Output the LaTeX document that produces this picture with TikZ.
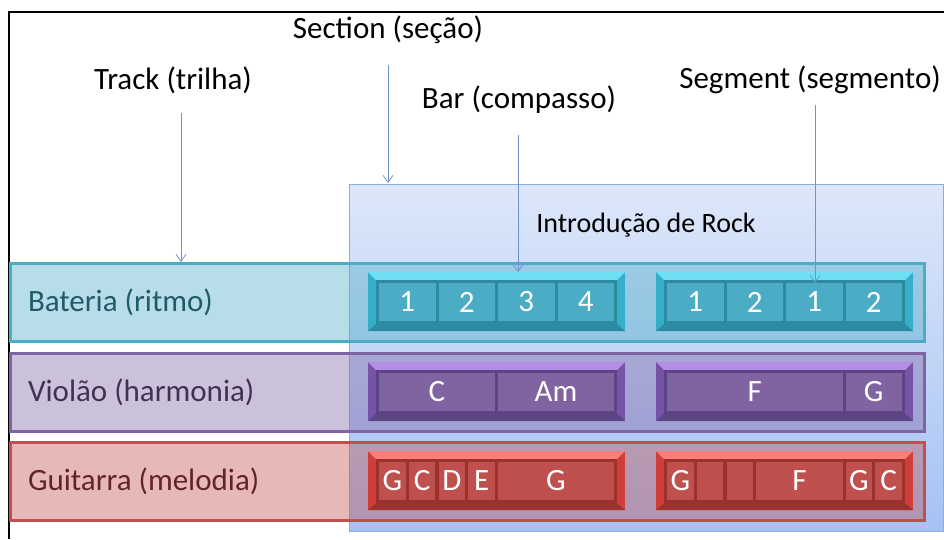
\documentclass[tikz,border=0pt]{standalone}
\usepackage{fontspec}
\setmainfont{Carlito}
\usetikzlibrary{arrows.meta}

\definecolor{tealc}{HTML}{4BACC6}
\definecolor{tealL}{HTML}{6FE0F4}
\definecolor{tealB}{HTML}{35AECB}
\definecolor{tealD}{HTML}{2E8AA1}
\definecolor{tealT}{HTML}{215A69}
\definecolor{purc}{HTML}{8064A2}
\definecolor{purL}{HTML}{B48EE4}
\definecolor{purB}{HTML}{7753A8}
\definecolor{purD}{HTML}{5C4582}
\definecolor{purT}{HTML}{403152}
\definecolor{redc}{HTML}{C0504D}
\definecolor{redL}{HTML}{FF7D78}
\definecolor{redB}{HTML}{D03E3A}
\definecolor{redD}{HTML}{9A3230}
\definecolor{redT}{HTML}{632523}
\definecolor{secTop}{HTML}{DDE7F9}
\definecolor{secBot}{HTML}{A5C2F4}
\definecolor{secLine}{HTML}{8EABDC}
\definecolor{pointc}{HTML}{6E93CC}

\begin{document}
\begin{tikzpicture}[x=1pt, y=-1pt,
	every node/.style={inner sep=0pt, outer sep=0pt, font=\fontsize{31}{37}\selectfont},
	section/.style={rectangle, draw=secLine, line width=0.8pt, top color=secTop, bottom color=secBot, minimum width=594pt, minimum height=347pt},
	track/.style={rectangle, draw=#1, line width=3pt, fill=#1, fill opacity=0.4, minimum width=914pt, minimum height=78pt},
	seg/.style n args={3}{rectangle, fill=#2, minimum width=257pt, minimum height=59pt,
		path picture={
			\fill[#1] (path picture bounding box.north west) -- (path picture bounding box.north east) -- ([xshift=-8pt,yshift=-8pt]path picture bounding box.north east) -- ([xshift=8pt,yshift=-8pt]path picture bounding box.north west) -- cycle;
			\fill[#3] (path picture bounding box.south west) -- (path picture bounding box.south east) -- ([xshift=-8pt,yshift=7pt]path picture bounding box.south east) -- ([xshift=8pt,yshift=7pt]path picture bounding box.south west) -- cycle;
			\fill[#3] ([xshift=8pt,yshift=-8pt]path picture bounding box.north west) rectangle ([xshift=-8pt,yshift=7pt]path picture bounding box.south east);
		}},
	cell/.style={rectangle, fill=#1, text=white, minimum height=38pt},
	pointer/.style={draw=pointc, line width=0.8pt, -{Straight Barb[length=7pt, width=10pt, line width=0.8pt]}}]
				\useasboundingbox (0,0) rectangle (944,539);
				\draw[line width=2.5pt] (944,12) -- (9,12) -- (9,539);
				
				\node (sect) at (388,30) {Section (seção)};
				\node (trk) at (173,80) {Track (trilha)};
				\node (bar) at (519,100) {Bar (compasso)};
				\node (sgm) at (810,80) {Segment (segmento)};
				
				\node[section] (sec) at (646,357.5) {};
				\node[font=\fontsize{28}{34}\selectfont] (intro) at (646,225) {Introdução de Rock};
				
				\node[track=tealc] (bat) at (467,302) {};
				\node[track=purc] (vio) at (467,392) {};
				\node[track=redc] (gui) at (467,481) {};
				\node[anchor=west, text=tealT] (batl) at (28,302) {Bateria (ritmo)};
				\node[anchor=west, text=purT] (viol) at (28,392) {Violão (harmonia)};
				\node[anchor=west, text=redT] (guil) at (28,481) {Guitarra (melodia)};
				
				\node[seg={tealL}{tealB}{tealD}] (bs1) at (496.5,301.5) {};
				\node[seg={tealL}{tealB}{tealD}] (bs2) at (784.5,301.5) {};
				\node[seg={purL}{purB}{purD}] (vs1) at (496.5,391.5) {};
				\node[seg={purL}{purB}{purD}] (vs2) at (784.5,391.5) {};
				\node[seg={redL}{redB}{redD}] (gs1) at (496.5,480.5) {};
				\node[seg={redL}{redB}{redD}] (gs2) at (784.5,480.5) {};
				
				\node[cell=tealc, minimum width=56.5pt] (b1) at (407.25,302) {1};
				\node[cell=tealc, minimum width=56.5pt] (b2) at (466.75,302) {2};
				\node[cell=tealc, minimum width=56.5pt] (b3) at (526.25,302) {3};
				\node[cell=tealc, minimum width=56.5pt] (b4) at (585.75,302) {4};
				\node[cell=tealc, minimum width=56.5pt] (b5) at (695.25,302) {1};
				\node[cell=tealc, minimum width=56.5pt] (b6) at (754.75,302) {2};
				\node[cell=tealc, minimum width=56.5pt] (b7) at (814.25,302) {1};
				\node[cell=tealc, minimum width=56.5pt] (b8) at (873.75,302) {2};
				
				\node[cell=purc, minimum width=116pt] (v1) at (437,392) {C};
				\node[cell=purc, minimum width=116pt] (v2) at (556,392) {Am};
				\node[cell=purc, minimum width=175.5pt] (v3) at (754.75,392) {F};
				\node[cell=purc, minimum width=56.5pt] (v4) at (873.75,392) {G};
				
				\node[cell=redc, minimum width=26.75pt] (g1) at (392.4,481) {G};
				\node[cell=redc, minimum width=26.75pt] (g2) at (422.1,481) {C};
				\node[cell=redc, minimum width=26.75pt] (g3) at (451.9,481) {D};
				\node[cell=redc, minimum width=26.75pt] (g4) at (481.6,481) {E};
				\node[cell=redc, minimum width=116pt] (g5) at (556,481) {G};
				\node[cell=redc, minimum width=26.75pt] (g6) at (680.4,481) {G};
				\node[cell=redc, minimum width=26.75pt] (g7) at (710.1,481) {};
				\node[cell=redc, minimum width=26.75pt] (g8) at (739.9,481) {};
				\node[cell=redc, minimum width=86.25pt] (g9) at (799.4,481) {F};
				\node[cell=redc, minimum width=26.75pt] (g10) at (858.9,481) {G};
				\node[cell=redc, minimum width=26.75pt] (g11) at (888.6,481) {C};
				
				\coordinate (trkA) at (181,113);
				\coordinate (trkB) at (181,262);
				\coordinate (sectA) at (388,65);
				\coordinate (sectB) at (388,183);
				\coordinate (barA) at (518,135);
				\coordinate (barB) at (518,272);
				\coordinate (sgmA) at (815,105);
				\coordinate (sgmB) at (815,283);
				
				\path[pointer] (trkA) -- (trkB);
				\path[pointer] (sectA) -- (sectB);
				\path[pointer] (barA) -- (barB);
				\path[pointer] (sgmA) -- (sgmB);
				\end{tikzpicture}
\end{document}
